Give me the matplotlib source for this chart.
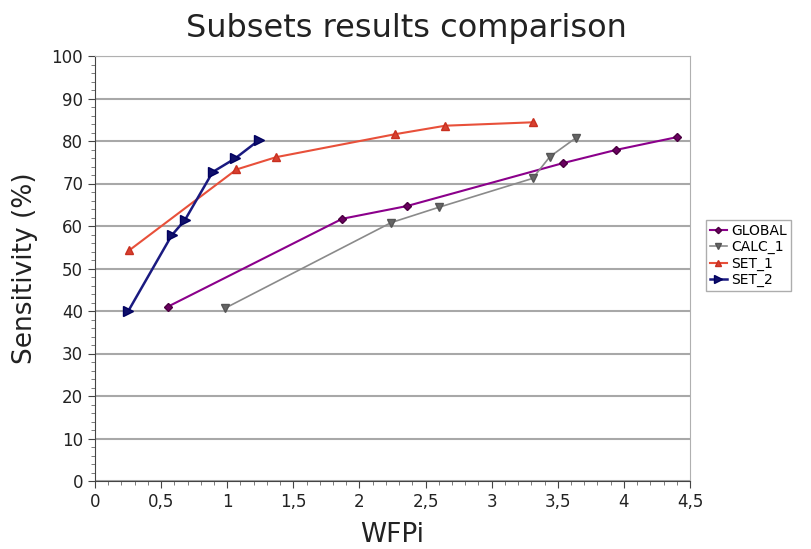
import matplotlib.pyplot as plt
from matplotlib.ticker import MultipleLocator, FuncFormatter

global_x = [0.55, 1.87, 2.36, 3.54, 3.94, 4.40]
global_y = [41.0, 61.7, 64.7, 74.8, 77.9, 80.9]

calc1_x = [0.98, 2.24, 2.60, 3.31, 3.44, 3.64]
calc1_y = [40.6, 60.8, 64.4, 71.2, 76.3, 80.8]

set1_x = [0.26, 1.07, 1.37, 2.27, 2.65, 3.31]
set1_y = [54.3, 73.3, 76.2, 81.6, 83.6, 84.4]

set2_x = [0.25, 0.58, 0.68, 0.89, 1.06, 1.24]
set2_y = [39.9, 57.8, 61.4, 72.7, 75.9, 80.2]

fig = plt.figure(figsize=(8.12, 5.49), dpi=100)
ax = fig.add_axes([95 / 812, 1 - 481 / 549, (690 - 95) / 812, (481 - 56) / 549])

ax.plot(global_x, global_y, color='#8b008b', marker='D', ms=4, lw=1.5, label='GLOBAL',
        markeredgecolor='#4b0040', markerfacecolor='#6a0060')
ax.plot(calc1_x, calc1_y, color='#8a8a8a', marker='v', ms=6, lw=1.2, label='CALC_1',
        markeredgecolor='#555555', markerfacecolor='#666666')
ax.plot(set1_x, set1_y, color='#e8503a', marker='^', ms=6, lw=1.5, label='SET_1',
        markeredgecolor='#c83020', markerfacecolor='#d84030')
ax.plot(set2_x, set2_y, color='#1a1a80', marker='>', ms=7, lw=1.8, label='SET_2',
        markeredgecolor='#000060', markerfacecolor='#10106a')

ax.set_xlim(0, 4.5)
ax.set_ylim(0, 100)
ax.xaxis.set_major_locator(MultipleLocator(0.5))
ax.xaxis.set_minor_locator(MultipleLocator(0.1))
ax.yaxis.set_major_locator(MultipleLocator(10))
ax.yaxis.set_minor_locator(MultipleLocator(2))
comma = FuncFormatter(lambda v, p: ('%g' % v).replace('.', ','))
ax.xaxis.set_major_formatter(comma)
ax.tick_params(axis='both', which='major', labelsize=12, length=5, color='#444444',
               labelcolor='#222222')
ax.tick_params(axis='both', which='minor', length=3, color='#666666')
ax.grid(axis='y', which='major', color='#a8a8a8', lw=1.5)
ax.set_axisbelow(True)
for side in ['top', 'right']:
    ax.spines[side].set_color('#b0b0b0')
for side in ['left', 'bottom']:
    ax.spines[side].set_color('#444444')

fig.text(0.5, 1 - 37 / 549, 'Subsets results comparison', fontsize=23,
         ha='center', va='baseline', color='#222222')
ax.set_xlabel('WFPi', fontsize=19, labelpad=8, color='#222222')
ax.set_ylabel('Sensitivity (%)', fontsize=19, labelpad=10, color='#222222')

leg = fig.legend(loc='upper left', bbox_to_anchor=(706 / 812, 1 - 220 / 549), fontsize=10,
                 frameon=True, fancybox=False, edgecolor='#999999', handlelength=1.2,
                 handletextpad=0.3, borderpad=0.3, labelspacing=0.15, markerscale=0.8,
                 borderaxespad=0)

fig.savefig('out.png', dpi=100)
